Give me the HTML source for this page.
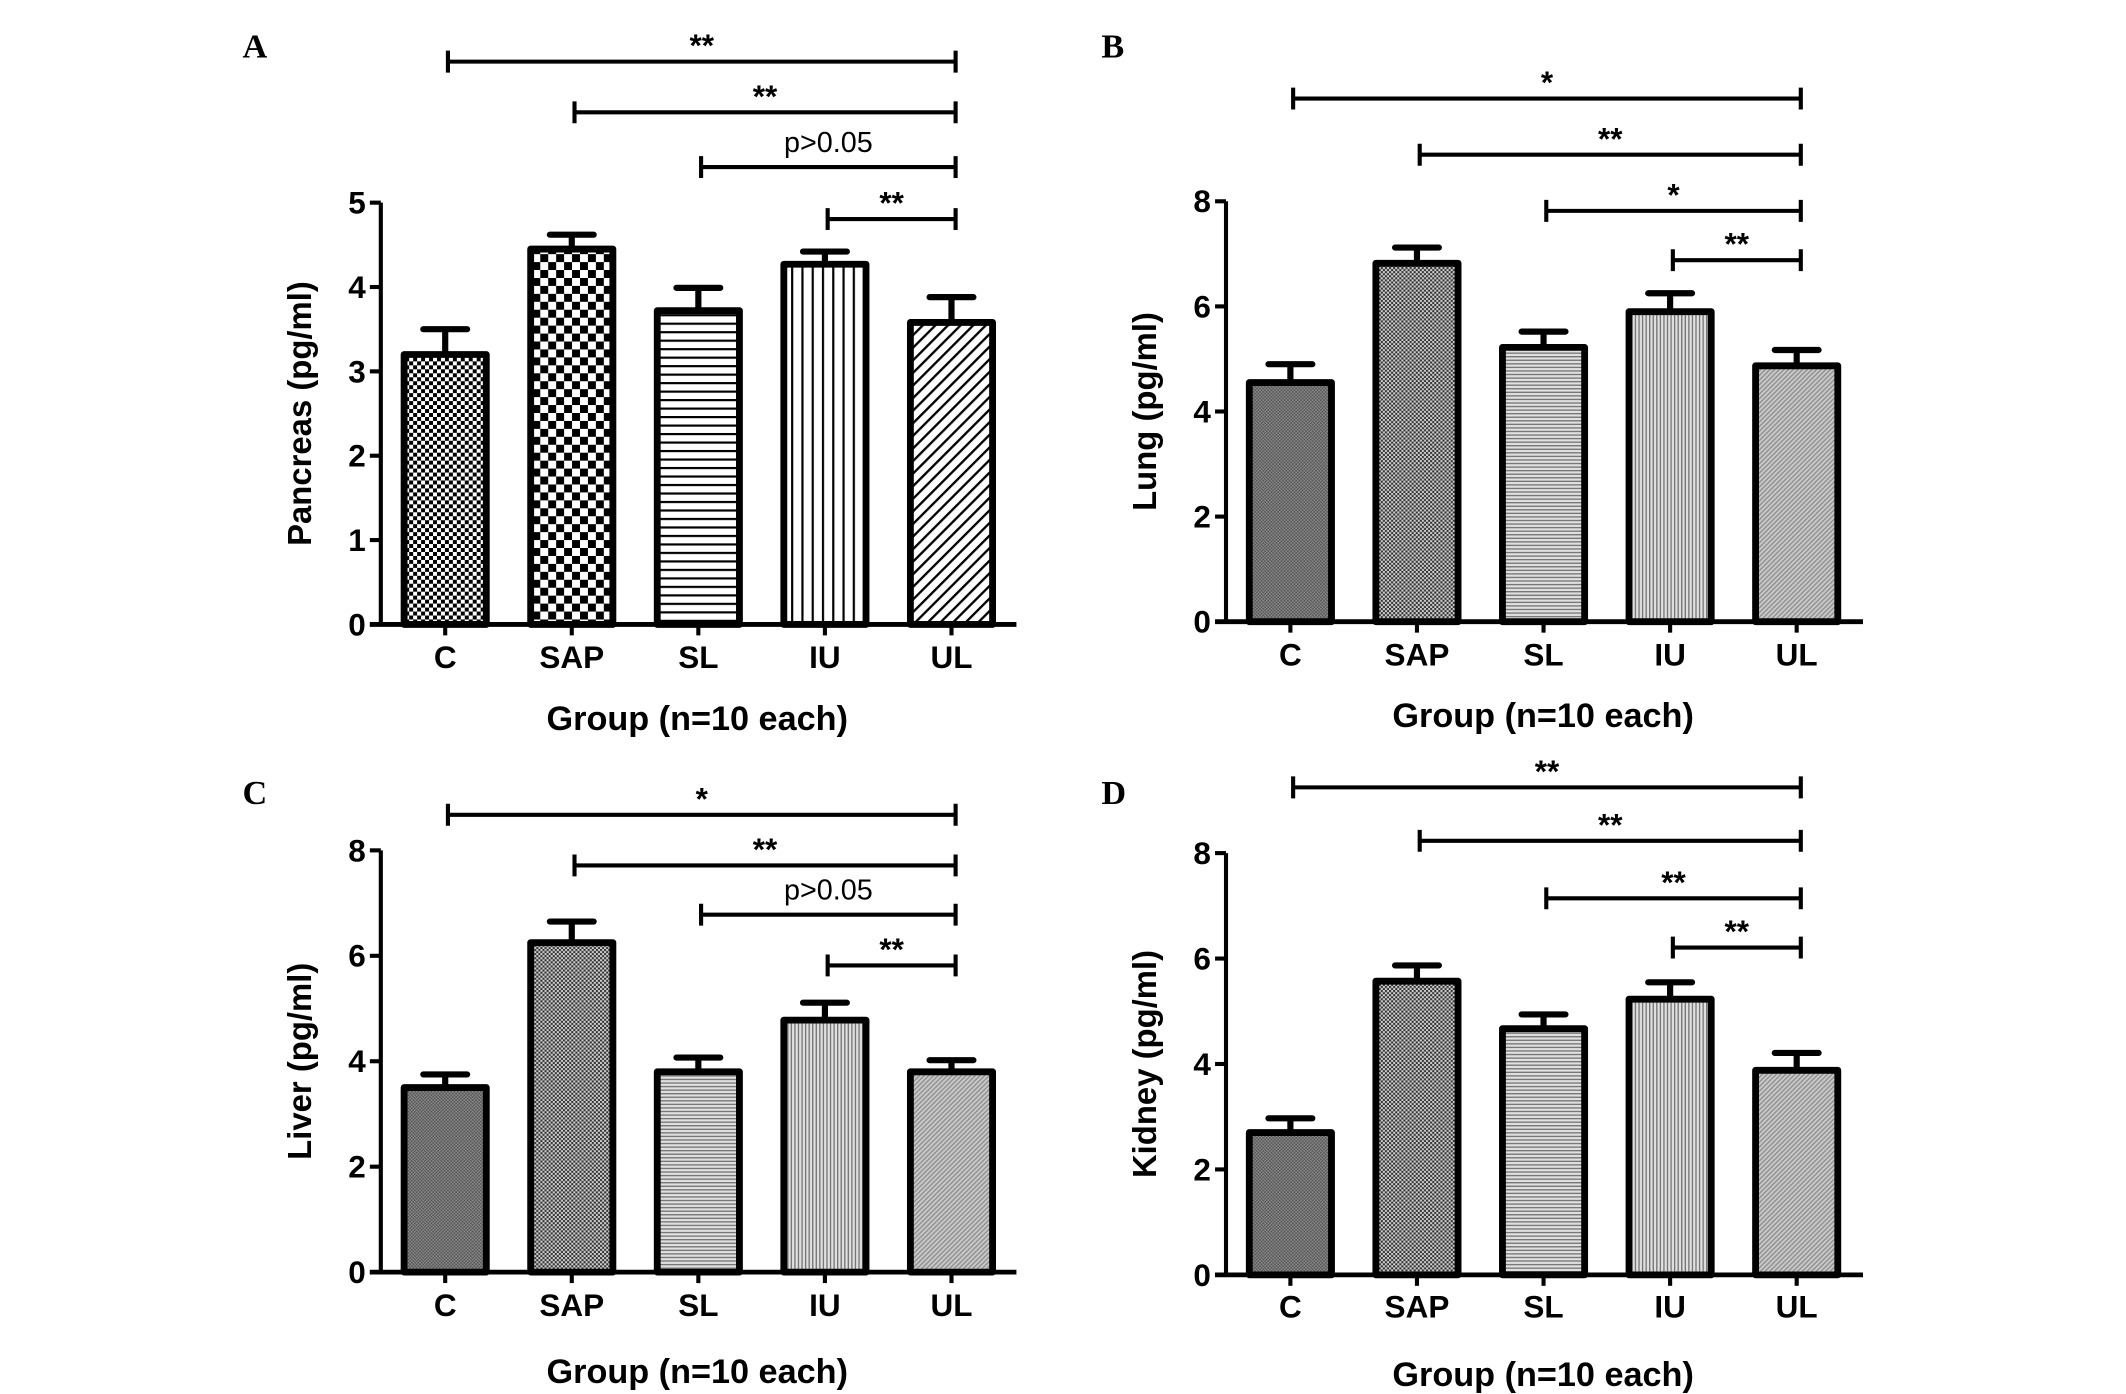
<!DOCTYPE html>
<html><head><meta charset="utf-8"><style>
html,body{margin:0;padding:0;background:#fff;}
svg{display:block;}
text{font-family:"Liberation Sans",sans-serif;font-weight:bold;fill:#000;}
</style></head><body>
<svg id="fig" width="2126" height="1394" viewBox="0 0 1552 1018" preserveAspectRatio="none" xmlns="http://www.w3.org/2000/svg">
<defs>
<pattern id="pA0" width="5.8" height="5.8" patternUnits="userSpaceOnUse"><rect width="5.8" height="5.8" fill="#fff"/><rect width="2.9" height="2.9" fill="#000"/><rect x="2.9" y="2.9" width="2.9" height="2.9" fill="#000"/></pattern>
<pattern id="pA1" width="11.6" height="11.6" patternUnits="userSpaceOnUse"><rect width="11.6" height="11.6" fill="#fff"/><rect width="5.8" height="5.8" fill="#000"/><rect x="5.8" y="5.8" width="5.8" height="5.8" fill="#000"/></pattern>
<pattern id="pA2" width="10" height="6.2" patternUnits="userSpaceOnUse"><rect width="10" height="6.2" fill="#fff"/><rect y="0" width="10" height="1.6" fill="#000"/></pattern>
<pattern id="pA3" width="7.5" height="10" patternUnits="userSpaceOnUse"><rect width="7.5" height="10" fill="#fff"/><rect width="1.6" height="10" fill="#000"/></pattern>
<pattern id="pA4" width="6.5" height="6.5" patternUnits="userSpaceOnUse" patternTransform="rotate(45)"><rect width="6.5" height="6.5" fill="#fff"/><rect width="1.7" height="6.5" fill="#000"/></pattern>
<pattern id="pG0" width="2.4" height="2.4" patternUnits="userSpaceOnUse"><rect width="2.4" height="2.4" fill="#8a8a8a"/><rect width="1.2" height="1.2" fill="#555"/><rect x="1.2" y="1.2" width="1.2" height="1.2" fill="#555"/></pattern>
<pattern id="pG1" width="3" height="3" patternUnits="userSpaceOnUse"><rect width="3" height="3" fill="#cfcfcf"/><rect width="1.5" height="1.5" fill="#333"/><rect x="1.5" y="1.5" width="1.5" height="1.5" fill="#333"/></pattern>
<pattern id="pG2" width="4" height="2.6" patternUnits="userSpaceOnUse"><rect width="4" height="2.6" fill="#e0e0e0"/><rect width="4" height="1" fill="#777"/></pattern>
<pattern id="pG3" width="2.6" height="4" patternUnits="userSpaceOnUse"><rect width="2.6" height="4" fill="#e0e0e0"/><rect width="1" height="4" fill="#777"/></pattern>
<pattern id="pG4" width="2.4" height="2.4" patternUnits="userSpaceOnUse" patternTransform="rotate(45)"><rect width="2.4" height="2.4" fill="#c8c8c8"/><rect width="0.9" height="2.4" fill="#8a8a8a"/></pattern>
</defs>
</svg>
<script>
const categories = ["C","SAP","SL","IU","UL"];
const pancreasValues = [3.2,4.45,3.72,4.27,3.58];
const pancreasErrors = [0.3,0.17,0.27,0.15,0.3];
const lungValues = [4.55,6.82,5.22,5.9,4.87];
const lungErrors = [0.35,0.3,0.3,0.35,0.3];
const liverValues = [3.5,6.25,3.8,4.78,3.8];
const liverErrors = [0.25,0.4,0.27,0.33,0.22];
const kidneyValues = [2.7,5.57,4.67,5.23,3.88];
const kidneyErrors = [0.27,0.3,0.27,0.32,0.33];
const pancreasTicks = [0,1,2,3,4,5];
const organTicks = [0,2,4,6,8];
const sigA = [["C","**"],["SAP","**"],["SL","p>0.05"],["IU","**"]];
const sigB = [["C","*"],["SAP","**"],["SL","*"],["IU","**"]];
const sigC = [["C","*"],["SAP","**"],["SL","p>0.05"],["IU","**"]];
const sigD = [["C","**"],["SAP","**"],["SL","**"],["IU","**"]];

const NS="http://www.w3.org/2000/svg";
const svg=document.getElementById('fig');
function mk(tag,attrs,parent){const e=document.createElementNS(NS,tag);for(const k in attrs)e.setAttribute(k,attrs[k]);(parent||svg).appendChild(e);return e;}

const panels=[
 {id:'a',letter:'A',lx:177,ly:42,ax:278,base:456,top:148,vmax:5,ticks:pancreasTicks,vals:pancreasValues,errs:pancreasErrors,ylab:'Pancreas (pg/ml)',pat:'pA',sig:sigA,sigY:[45,82,122,160],catY:488,grpY:533,ylabX:227,axEnd:742},
 {id:'b',letter:'B',lx:804,ly:42,ax:895,base:454,top:147,vmax:8,ticks:organTicks,vals:lungValues,errs:lungErrors,ylab:'Lung (pg/ml)',pat:'pG',sig:sigB,sigY:[72,113,154,190],catY:486,grpY:531,ylabX:844,axEnd:1360},
 {id:'c',letter:'C',lx:177,ly:587,ax:278,base:929,top:621,vmax:8,ticks:organTicks,vals:liverValues,errs:liverErrors,ylab:'Liver (pg/ml)',pat:'pG',sig:sigC,sigY:[595,632,668,705],catY:961,grpY:1010,ylabX:227,axEnd:742},
 {id:'d',letter:'D',lx:804,ly:587,ax:895,base:931,top:623,vmax:8,ticks:organTicks,vals:kidneyValues,errs:kidneyErrors,ylab:'Kidney (pg/ml)',pat:'pG',sig:sigD,sigY:[575,614,656,692],catY:962,grpY:1012,ylabX:844,axEnd:1360}
];

panels.forEach(p=>{
 const g=mk('g',{});
 
 
 const yS=v=>p.base-(v/p.vmax)*(p.base-p.top);
 const step=92.4, x0=p.ax+47;
 const xS=i=>x0+i*step;
 const L=mk('text',{x:p.lx,y:p.ly,'font-size':25,style:'font-family:"Liberation Serif",serif'},g);L.textContent=p.letter;
 
 
 p.vals.forEach((v,i)=>{
  const cx=xS(i),w=60;
  const e=p.errs[i];
  const eb=mk('path',{d:`M${cx} ${yS(v)} V${yS(v+e)} M${cx-16} ${yS(v+e)} H${cx+16}`,stroke:'#000','stroke-width':4.5,'stroke-linecap':'round',fill:'none'},g);
  
  
  const r=mk('rect',{x:cx-w/2,y:yS(v),width:w,height:p.base-yS(v),fill:`url(#${p.pat}${i})`,stroke:'#000','stroke-width':5,'stroke-linejoin':'round'},g);
  
  
  mk('line',{x1:cx,x2:cx,y1:p.base,y2:p.base+8,stroke:'#000','stroke-width':3},g);
  const ct=mk('text',{x:cx,y:p.catY,'font-size':23,'text-anchor':'middle'},g);ct.textContent=categories[i];
  
  
 });
 const ya=mk('line',{x1:p.ax,x2:p.ax,y1:p.top,y2:p.base,stroke:'#000','stroke-width':3},g);
 
 
 const xa=mk('line',{x1:p.ax-8,x2:p.axEnd,y1:p.base,y2:p.base,stroke:'#000','stroke-width':3.5},g);
 
 
 p.ticks.forEach(t=>{
  mk('line',{x1:p.ax-8,x2:p.ax,y1:yS(t),y2:yS(t),stroke:'#000','stroke-width':3},g);
  const tl=mk('text',{x:p.ax-11,y:yS(t)+8,'font-size':23,'text-anchor':'end'},g);tl.textContent=t;
  
  
 });
 const yl=mk('text',{x:0,y:0,'font-size':24,'text-anchor':'middle',transform:`translate(${p.ylabX},${(p.top+p.base)/2}) rotate(-90)`},g);yl.textContent=p.ylab;
 
 
 const xl=mk('text',{x:(p.ax+p.axEnd)/2-1,y:p.grpY,'font-size':25,'text-anchor':'middle'},g);xl.textContent='Group (n=10 each)';
 
 
 const xEnd=xS(4)+3;
 p.sig.forEach((s,k)=>{
  const xs=xS(categories.indexOf(s[0]))+2, y=p.sigY[k];
  const br=mk('path',{d:`M${xs} ${y-8} V${y+8} M${xs} ${y} H${xEnd} M${xEnd} ${y-8} V${y+8}`,stroke:'#000','stroke-width':3,fill:'none'},g);
  
  
  const isP=s[1].indexOf('p')===0;
  const st=mk('text',{x:(xs+xEnd)/2,y:isP?y-11:y-4,'font-size':isP?21:23,'text-anchor':'middle',style:isP?'font-weight:normal':''},g);st.textContent=s[1];
  
  
 });
});
</script>
</body></html>
